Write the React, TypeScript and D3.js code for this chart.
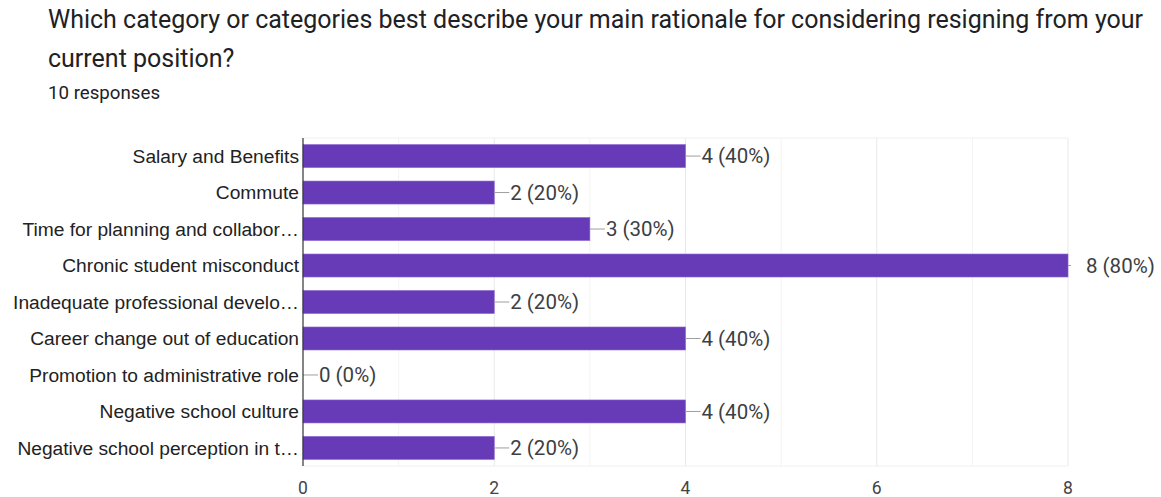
import React from "react";
import * as d3 from "d3";

const categories = [
  "Salary and Benefits",
  "Commute",
  "Time for planning and collabor…",
  "Chronic student misconduct",
  "Inadequate professional develo…",
  "Career change out of education",
  "Promotion to administrative role",
  "Negative school culture",
  "Negative school perception in t…",
];
const counts = [4, 2, 3, 8, 2, 4, 0, 4, 2];
const totalResponses = 10;
const xTicks = [0, 2, 4, 6, 8];
const gridValues = [1, 2, 3, 4, 5, 6, 7, 8];

const W = 1161;
const H = 497;
const left = 303;
const right = 1068;
const top = 138;
const bottom = 466;

export default function App() {
  const x = d3.scaleLinear().domain([0, 8]).range([left, right]);
  const y = d3
    .scaleBand<string>()
    .domain(categories)
    .range([top, bottom])
    .paddingInner(0.37)
    .paddingOuter(0.18);
  const labelFont = "'Liberation Sans', Arial, sans-serif";
  const roboto = "Roboto, 'Noto Sans', sans-serif";
  return (
    <svg
      width={W}
      height={H}
      style={{ position: "absolute", left: 0, top: 0, background: "#fff" }}
    >
      <text x={48} y={28} fontFamily={roboto} fontSize={25} fill="#202124">
        Which category or categories best describe your main rationale for considering resigning from your
      </text>
      <text x={48} y={67} fontFamily={roboto} fontSize={25} fill="#202124">
        current position?
      </text>
      <text x={48} y={99} fontFamily={roboto} fontSize={18.7} fill="#202124">
        {totalResponses} responses
      </text>

      {gridValues.map((v) => (
        <line
          key={"g" + v}
          x1={x(v)}
          x2={x(v)}
          y1={top}
          y2={bottom}
          stroke={v % 2 === 0 ? "#e8e8e8" : "#f3f3f3"}
          strokeWidth={1}
        />
      ))}
      <line x1={left} x2={right} y1={top} y2={top} stroke="#f0f0f0" />
      <line x1={left} x2={right} y1={bottom} y2={bottom} stroke="#f0f0f0" />

      {categories.map((c, i) => {
        const v = counts[i];
        const by = y(c)!;
        const bh = y.bandwidth();
        const cy = by + bh / 2;
        const xe = x(v);
        const pct = Math.round((v / totalResponses) * 100);
        const outside = v === 8;
        return (
          <g key={c}>
            {v > 0 && (
              <rect x={x(0)} y={by} width={xe - x(0)} height={bh} fill="#673ab7" stroke="#8a63d2" strokeWidth={0.6} />
            )}
            <line
              x1={xe}
              x2={outside ? xe + 3 : xe + 15}
              y1={cy}
              y2={cy}
              stroke="#9e9e9e"
              strokeWidth={1}
            />
            <text
              x={outside ? xe + 18 : xe + 16}
              y={cy}
              dy="0.35em"
              fontFamily={roboto}
              fontSize={20.5}
              fill="#3c4043"
            >
              {`${v} (${pct}%)`}
            </text>
            <text
              x={left - 4}
              y={cy}
              dy="0.35em"
              textAnchor="end"
              fontFamily={labelFont}
              fontSize={19.2}
              fill="#222"
            >
              {c}
            </text>
          </g>
        );
      })}

      <line x1={left} x2={left} y1={top} y2={bottom} stroke="#333" strokeWidth={1.2} />

      {xTicks.map((t) => (
        <text
          key={"t" + t}
          x={x(t)}
          y={494}
          textAnchor="middle"
          fontFamily={roboto}
          fontSize={17.5}
          fill="#444"
        >
          {t}
        </text>
      ))}
    </svg>
  );
}
